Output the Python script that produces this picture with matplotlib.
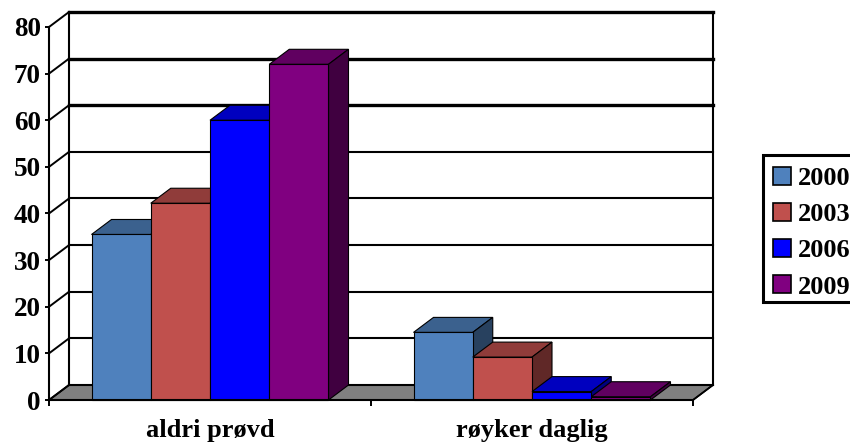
import matplotlib
matplotlib.use('Agg')
import matplotlib.pyplot as plt
from matplotlib.patches import Polygon, Patch, Rectangle
from matplotlib.colors import to_rgb

categories = ['aldri prøvd', 'røyker daglig']
years = ['2000', '2003', '2006', '2009']
values_2000 = [35.5, 14.5]
values_2003 = [42.2, 9.2]
values_2006 = [60, 1.8]
values_2009 = [72, 0.7]
colors = ['#4F81BD', '#C0504D', '#0000FF', '#800080']
y_ticks = [0, 10, 20, 30, 40, 50, 60, 70, 80]

plt.rcParams['font.family'] = ['Liberation Serif', 'DejaVu Serif']
plt.rcParams['font.weight'] = 'bold'

W, H = 850, 443
fig = plt.figure(figsize=(W / 100, H / 100), dpi=100)
ax = fig.add_axes([49 / W, (H - 400) / H, 644 / W, 373 / H])
ax.set_xlim(0, 2)
ax.set_ylim(0, 80)

# 3d depth of the chart, in data units (20px right, 15px up)
dx = 20 / 322
dy = 15 / (373 / 80)

# floor
ax.add_patch(Polygon([(0, 0), (2, 0), (2 + dx, dy), (dx, dy)], closed=True,
                     facecolor='#808080', edgecolor='black', lw=1.2, clip_on=False, zorder=1))

# back wall grid lines
for v in y_ticks:
    lw = 2.4 if v >= 60 else 1.5
    ax.plot([dx, 2 + dx], [v + dy, v + dy], color='black', lw=lw, clip_on=False, zorder=1.5,
            solid_capstyle='projecting')
    ax.plot([0, dx], [v, v + dy], color='black', lw=1.4, clip_on=False, zorder=1.5)
ax.plot([dx, dx], [dy, 80 + dy], color='black', lw=1.5, clip_on=False, zorder=1.5)
ax.plot([2 + dx, 2 + dx], [dy, 80 + dy], color='black', lw=1.5, clip_on=False, zorder=1.5)
ax.plot([2, 2 + dx], [0, dy], color='black', lw=1.2, clip_on=False, zorder=1.5)


def shade(c, k):
    return tuple(x * k for x in to_rgb(c))


series = [values_2000, values_2003, values_2006, values_2009]
bar_w = 0.184
z = 2
for g in range(len(categories)):
    for i, vals in enumerate(series):
        v = vals[g]
        x0 = g + 0.5 + (i - 2) * bar_w
        x1 = x0 + bar_w
        top = Polygon([(x0, v), (x1, v), (x1 + dx, v + dy), (x0 + dx, v + dy)], closed=True,
                      facecolor=shade(colors[i], 0.75), edgecolor='black', lw=0.8, clip_on=False, zorder=z)
        side = Polygon([(x1, 0), (x1 + dx, dy), (x1 + dx, v + dy), (x1, v)], closed=True,
                       facecolor=shade(colors[i], 0.5), edgecolor='black', lw=0.8, clip_on=False, zorder=z)
        ax.add_patch(top)
        ax.add_patch(side)
        ax.bar(x0, v, width=bar_w, align='edge', color=colors[i], edgecolor='black', lw=0.8,
               clip_on=False, zorder=z + 0.1)
        z += 0.2

for s in ['top', 'right']:
    ax.spines[s].set_visible(False)
for s in ['left', 'bottom']:
    ax.spines[s].set_linewidth(1.5)
    ax.spines[s].set_zorder(20)

ax.set_yticks(y_ticks)
ax.set_yticklabels([str(v) for v in y_ticks], fontsize=19.5, fontweight='bold')
ax.tick_params(axis='y', length=3, width=1.4, pad=3)
ax.set_xticks([0, 1, 2])
ax.set_xticklabels([])
ax.tick_params(axis='x', which='major', length=4, width=1.4)
ax.set_xticks([0.5, 1.5], minor=True)
ax.set_xticklabels(categories, minor=True, fontsize=19, fontweight='bold')
ax.tick_params(axis='x', which='minor', length=0, pad=13.5)

# legend frame runs off the right edge of the picture
fig.patches.append(Rectangle((763 / W, (H - 302) / H), 110 / W, 147 / H, transform=fig.transFigure,
                             facecolor='white', edgecolor='black', lw=2.2, figure=fig))
handles = [Patch(facecolor=c, edgecolor='black', lw=1.2) for c in colors]
leg = fig.legend(handles, years, loc='upper left', bbox_to_anchor=(773 / W, (H - 166.5) / H),
                 bbox_transform=fig.transFigure, borderaxespad=0, frameon=False,
                 handlelength=0.68, handleheight=0.68, handletextpad=0.27, labelspacing=0.49,
                 borderpad=0, prop={'weight': 'bold', 'size': 19})

fig.savefig('out.png', dpi=100)
